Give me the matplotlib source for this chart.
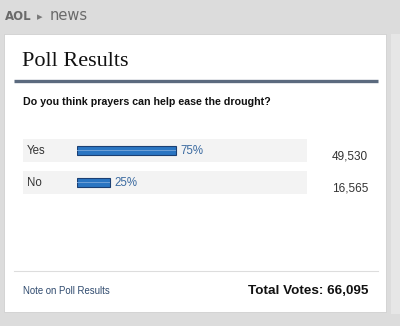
import matplotlib
matplotlib.use("Agg")
import matplotlib.pyplot as plt
from matplotlib.patches import Rectangle

# Data
question = "Do you think prayers can help ease the drought?"
categories = ["Yes", "No"]
percents = [75, 25]
votes = [49530, 16565]
total_votes = 66095

W, H = 400, 326
fig = plt.figure(figsize=(W / 100, H / 100), dpi=100)
fig.patch.set_facecolor("#dcdcdc")
ax = fig.add_axes([0, 0, 1, 1])
ax.set_xlim(0, W)
ax.set_ylim(H, 0)
ax.axis("off")

# right light strip
ax.add_patch(Rectangle((391, 34), 9, 280, facecolor="#e6e6e6", edgecolor="none"))
# white panel
ax.add_patch(Rectangle((4, 34), 382, 278, facecolor="white", edgecolor="#d0d0d0", lw=0.6))

# header
ax.text(5, 17, "AOL", fontsize=8.5, color="#6a6a6a", family="DejaVu Sans", va="center", ha="left", fontweight="bold")
ax.text(37, 17, "\u25B8", fontsize=8, color="#7a7a7a", va="center", ha="left")
ax.text(50, 16, "news", fontsize=10.5, color="#6a6a6a", family="DejaVu Sans", va="center", ha="left")

# title
ax.text(22, 62, "Poll Results", fontsize=16, family="Liberation Serif", color="#111111", va="center", ha="left")
ax.plot([14, 378], [80.5, 80.5], color="#5b6a7e", lw=2.4, solid_capstyle="butt")

# question
ax.text(23, 102, question, fontsize=7.7, fontweight="bold", family="Liberation Sans", color="#111111", va="center", ha="left")

# rows
row_centers = [150.5, 182.5]
for i, (cat, cnt) in enumerate(zip(categories, votes)):
    yc = row_centers[i]
    ax.add_patch(Rectangle((23, yc - 11.5), 284, 23, facecolor="#f3f3f3", edgecolor="none"))
    ax.text(27, yc, cat, fontsize=8.3, family="Liberation Sans", color="#333333", va="center", ha="left")
    ax.text(368, yc + 6, f"{cnt:,}", fontsize=8.5, family="Liberation Sans", color="#333333", va="center", ha="right")

# bars axis: 0..100 % mapped to pixel 77..209
bx0, bx1 = 77, 209
by0, by1 = 130, 200
bax = fig.add_axes([bx0 / W, 1 - by1 / H, (bx1 - bx0) / W, (by1 - by0) / H])
bax.set_xlim(0, 100)
bax.set_ylim(by1, by0)
bax.axis("off")
bax.patch.set_alpha(0)
bars = bax.barh(row_centers, percents, height=9.5, left=0, color="#2a75c2", edgecolor="#1b3f73", linewidth=0.8)
bax.barh(row_centers, percents, height=1.2, left=0, color="#6d9fd6", edgecolor="none")
for b, p in zip(bars, percents):
    bax.text(b.get_width() + 3, b.get_y() + b.get_height() / 2, f"{p}%", fontsize=8.3,
             family="Liberation Sans", color="#3b6aa0", va="center", ha="left", clip_on=False)

# bottom
ax.plot([14, 378], [271, 271], color="#dddddd", lw=0.8)
ax.text(23, 291, "Note on Poll Results", fontsize=6.9, family="Liberation Sans", color="#2f4a6e", va="center", ha="left")
ax.text(368, 291, f"Total Votes: {total_votes:,}", fontsize=9.7, fontweight="bold", family="Liberation Sans", color="#111111", va="center", ha="right")

fig.savefig("out.png", dpi=100, facecolor=fig.get_facecolor())
